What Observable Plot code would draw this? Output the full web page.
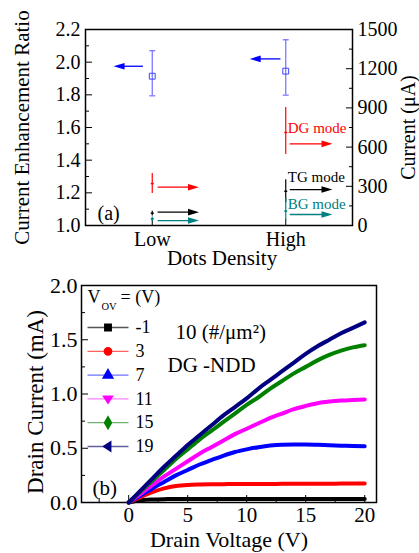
<!DOCTYPE html>
<html>
<head>
<meta charset="utf-8">
<script src="https://cdn.jsdelivr.net/npm/d3@7"></script>
<script src="https://cdn.jsdelivr.net/npm/@observablehq/plot@0.6"></script>
<style>
  html, body { margin: 0; padding: 0; background: white; font-family: "Liberation Serif", "Times New Roman", "DejaVu Serif", serif; }
  #wrap { position: relative; width: 419px; height: 553px; background: white; overflow: hidden; }
  #top, #bottom { position: absolute; left: 0; }
  #top { top: 0; }
  #bottom { top: 270px; }
  svg text { font-family: "Liberation Serif", "Times New Roman", "DejaVu Serif", serif !important; }
</style>
</head>
<body>
<div id="wrap"><div id="top"></div><div id="bottom"></div></div>
<script>
// ---------- Panel (a) data ----------
const categories = ["Low", "High"];
const catPos = [1, 2];
const ratioMean = [1.914, 1.945];
const ratioLo = [1.794, 1.798];
const ratioHi = [2.07, 2.137];
const dgMean = [321, 712], dgLo = [245, 543], dgHi = [398, 903];   // µA
const tgMean = [94, 262], tgLo = [72, 175], tgHi = [110, 350];     // µA
const bgMean = [51, 110], bgLo = [28, 38], bgHi = [66, 206];       // µA
const ratioTicks = [1.0, 1.2, 1.4, 1.6, 1.8, 2.0, 2.2];
const ratioMinor = [1.1, 1.3, 1.5, 1.7, 1.9, 2.1];
const currentTicks = [0, 300, 600, 900, 1200, 1500];
const currentMinor = [150, 450, 750, 1050, 1350];
// arrows (x in category units)
const leftArrowFrom = [0.93, 1.96], leftArrowTo = [0.71, 1.73], ratioArrowY = [1.975, 2.02];
const rightArrowFrom = [1.04, 2.03], rightArrowTo = [1.35, 2.35];
const dgArrowY = [293, 625], tgArrowY = [102, 275], bgArrowY = [38, 84];
const modeNames = ["DG mode", "TG mode", "BG mode"];
const modeLabelY = [742, 370, 161];
const modeLabelX = 2.015;

// ---------- Panel (b) data ----------
const drainV = [0,1,2,3,4,5,6,7,8,9,10,11,12,13,14,15,16,17,18,19,20];
const vovLabels = ["-1", "3", "7", "11", "15", "19"];
const id_m1 = [0,0.02,0.028,0.031,0.032,0.032,0.032,0.032,0.032,0.032,0.032,0.032,0.032,0.032,0.032,0.032,0.032,0.032,0.032,0.032,0.032];
const id_3  = [0,0.05,0.095,0.13,0.152,0.162,0.166,0.168,0.169,0.17,0.17,0.171,0.171,0.172,0.172,0.172,0.173,0.173,0.174,0.174,0.175];
const id_7  = [0,0.065,0.13,0.19,0.25,0.30,0.35,0.39,0.43,0.465,0.49,0.51,0.525,0.533,0.535,0.535,0.532,0.528,0.524,0.52,0.518];
const id_11 = [0,0.08,0.16,0.24,0.31,0.38,0.45,0.51,0.57,0.63,0.68,0.73,0.78,0.82,0.86,0.89,0.915,0.93,0.94,0.945,0.95];
const id_15 = [0,0.10,0.20,0.30,0.40,0.49,0.58,0.66,0.74,0.82,0.90,0.97,1.05,1.12,1.19,1.25,1.31,1.36,1.40,1.43,1.45];
const id_19 = [0,0.11,0.22,0.33,0.43,0.53,0.62,0.71,0.80,0.88,0.96,1.05,1.13,1.21,1.29,1.37,1.44,1.50,1.56,1.61,1.66];
const xMajor = [0, 5, 10, 15, 20];
const xMinor = [-2.5, 2.5, 7.5, 12.5, 17.5];
const yMajor = [0, 0.5, 1.0, 1.5, 2.0];
const yMinor = [0.25, 0.75, 1.25, 1.75];

const FONT = "'Liberation Serif', 'Times New Roman', 'DejaVu Serif', serif";

// custom symbols
const hcap = { draw(ctx, size) { const r = Math.sqrt(size / Math.PI); ctx.moveTo(-r, 0); ctx.lineTo(r, 0); } };
const headRight = { draw(ctx) { ctx.moveTo(0, 0); ctx.lineTo(-11, -3.3); ctx.lineTo(-11, 3.3); ctx.closePath(); } };
const headLeft = { draw(ctx) { ctx.moveTo(0, 0); ctx.lineTo(11, -3.3); ctx.lineTo(11, 3.3); ctx.closePath(); } };
const triDown = { draw(ctx, size) { const r = Math.sqrt(size / Math.PI) * 1.25; ctx.moveTo(-r, -r * 0.6); ctx.lineTo(r, -r * 0.6); ctx.lineTo(0, r * 0.95); ctx.closePath(); } };
const triLeft = { draw(ctx, size) { const r = Math.sqrt(size / Math.PI) * 1.25; ctx.moveTo(-r * 0.95, 0); ctx.lineTo(r * 0.6, -r); ctx.lineTo(r * 0.6, r); ctx.closePath(); } };

// ---------- Panel (a) ----------
const toR = c => 1 + c / 1500 * 1.2;
const rowsOf = (mean, lo, hi, conv) => catPos.map((x, i) => ({ x, mean: conv(mean[i]), lo: conv(lo[i]), hi: conv(hi[i]) }));
const id = d => d;
const ratioRows = rowsOf(ratioMean, ratioLo, ratioHi, id);
const modeSeries = [
  { rows: rowsOf(dgMean, dgLo, dgHi, toR), color: "#ff0000", arrowY: dgArrowY },
  { rows: rowsOf(tgMean, tgLo, tgHi, toR), color: "#000000", arrowY: tgArrowY },
  { rows: rowsOf(bgMean, bgLo, bgHi, toR), color: "#008080", arrowY: bgArrowY }
];

const marksA = [
  Plot.frame({ stroke: "black", strokeWidth: 1.5 }),
  Plot.axisY(ratioTicks, { tickSize: 0, tickPadding: 5, tickFormat: d3.format(".1f"), label: null, fontSize: 20 }),
  Plot.axisY(ratioTicks, { tickSize: -7, tickFormat: () => "", label: null }),
  Plot.axisY(ratioMinor, { tickSize: -4, tickFormat: () => "", label: null }),
  Plot.axisY(currentTicks.map(toR), { anchor: "right", tickSize: 0, tickPadding: 5, tickFormat: d => String(Math.round((d - 1) / 1.2 * 1500)), label: null, fontSize: 20 }),
  Plot.axisY(currentTicks.map(toR), { anchor: "right", tickSize: -7, tickFormat: () => "", label: null }),
  Plot.axisY(currentMinor.map(toR), { anchor: "right", tickSize: -4, tickFormat: () => "", label: null }),
  Plot.axisX(catPos, { tickSize: 0, tickPadding: 6, tickFormat: d => categories[d - 1], label: null, fontSize: 20 }),
  Plot.axisX(catPos, { tickSize: -6, tickFormat: () => "", label: null }),
  // ratio error bars (blue)
  Plot.ruleX(ratioRows, { x: "x", y1: "lo", y2: "hi", stroke: "#7070ff", strokeWidth: 1.2 }),
  Plot.dot(ratioRows, { x: "x", y: "lo", symbol: hcap, r: 3, stroke: "#7070ff", strokeWidth: 1.2 }),
  Plot.dot(ratioRows, { x: "x", y: "hi", symbol: hcap, r: 3, stroke: "#7070ff", strokeWidth: 1.2 }),
  Plot.dot(ratioRows, { x: "x", y: "mean", symbol: "square", r: 3.3, stroke: "#4040ff", fill: "none", strokeWidth: 1 }),
  // blue arrows (left)
  Plot.link(catPos, { x1: (d, i) => leftArrowFrom[i], x2: (d, i) => leftArrowTo[i] + 0.03, y1: (d, i) => ratioArrowY[i], y2: (d, i) => ratioArrowY[i], stroke: "#0000ff", strokeWidth: 1.3 }),
  Plot.dot(catPos, { x: (d, i) => leftArrowTo[i], y: (d, i) => ratioArrowY[i], symbol: headLeft, fill: "#0000ff", stroke: "none" }),
  // (a) label
  Plot.text(["(a)"], { frameAnchor: "bottom-left", dx: 12, dy: -12, lineAnchor: "middle", textAnchor: "start", fontSize: 20 }),
  // axis titles
  Plot.text(["Current Enhancement Ratio"], { frameAnchor: "left", dx: -63, rotate: -90, fontSize: 21, textAnchor: "middle", lineAnchor: "middle" }),
  Plot.text(["Current (μA)"], { frameAnchor: "right", dx: 56, rotate: -90, fontSize: 20, textAnchor: "middle", lineAnchor: "middle" }),
  Plot.text(["Dots Density"], { frameAnchor: "bottom", dx: 3, dy: 33, fontSize: 21, textAnchor: "middle", lineAnchor: "middle" })
];
modeSeries.forEach((s, k) => {
  marksA.push(
    Plot.ruleX(s.rows, { x: "x", y1: "lo", y2: "hi", stroke: s.color, strokeWidth: 1.2 }),
    Plot.dot(s.rows, { x: "x", y: "mean", symbol: hcap, r: 1.5, stroke: s.color, strokeWidth: 1.5 }),
    Plot.link(catPos, { x1: (d, i) => rightArrowFrom[i], x2: (d, i) => rightArrowTo[i] - 0.03, y1: (d, i) => toR(s.arrowY[i]), y2: (d, i) => toR(s.arrowY[i]), stroke: s.color, strokeWidth: 1.3 }),
    Plot.dot(catPos, { x: (d, i) => rightArrowTo[i], y: (d, i) => toR(s.arrowY[i]), symbol: headRight, fill: s.color, stroke: "none" }),
    Plot.text([modeNames[k]], { x: modeLabelX, y: toR(modeLabelY[k]), textAnchor: "start", lineAnchor: "middle", fill: s.color, fontSize: 15 })
  );
});

const plotA = Plot.plot({
  width: 419, height: 270,
  marginLeft: 85, marginRight: 67, marginTop: 29, marginBottom: 45,
  x: { domain: [0.5, 2.5] },
  y: { domain: [1.0, 2.2] },
  style: { fontFamily: FONT, fontSize: "20px", background: "white", color: "black" },
  marks: marksA
});
document.getElementById("top").appendChild(plotA);

// ---------- Panel (b) ----------
const seriesB = [
  { label: vovLabels[0], values: id_m1, color: "#000000", legendLine: "#555555", symbol: "square" },
  { label: vovLabels[1], values: id_3,  color: "#ff0000", legendLine: "#ff6060", symbol: "circle" },
  { label: vovLabels[2], values: id_7,  color: "#0000ff", legendLine: "#7070ff", symbol: "triangle" },
  { label: vovLabels[3], values: id_11, color: "#ff00ff", legendLine: "#ff80ff", symbol: triDown },
  { label: vovLabels[4], values: id_15, color: "#008000", legendLine: "#70b070", symbol: "diamond" },
  { label: vovLabels[5], values: id_19, color: "#000080", legendLine: "#6060a0", symbol: triLeft }
];

const marksB = [
  Plot.frame({ stroke: "black", strokeWidth: 1.5 }),
  Plot.axisY(yMajor, { tickSize: 0, tickPadding: 4, tickFormat: d3.format(".1f"), label: null, fontSize: 22 }),
  Plot.axisY(yMajor, { tickSize: -7, tickFormat: () => "", label: null }),
  Plot.axisY(yMinor, { tickSize: -4, tickFormat: () => "", label: null }),
  Plot.axisX(xMajor, { tickSize: 0, tickPadding: 5, tickFormat: d => String(d), label: null, fontSize: 21 }),
  Plot.axisX(xMajor, { tickSize: -7, tickFormat: () => "", label: null }),
  Plot.axisX(xMinor, { tickSize: -4, tickFormat: () => "", label: null })
];
seriesB.forEach(s => {
  marksB.push(Plot.line(drainV.map((v, j) => ({ v, i: s.values[j] })), { x: "v", y: "i", stroke: s.color, strokeWidth: 4, curve: "monotone-x" }));
});
// legend
marksB.push(
  Plot.text(["V"], { frameAnchor: "top-left", dx: 6, dy: 12, textAnchor: "start", lineAnchor: "middle", fontSize: 18 }),
  Plot.text(["OV"], { frameAnchor: "top-left", dx: 20, dy: 21.5, textAnchor: "start", lineAnchor: "middle", fontSize: 10.5 }),
  Plot.text(["= (V)"], { frameAnchor: "top-left", dx: 39, dy: 12, textAnchor: "start", lineAnchor: "middle", fontSize: 18 })
);
seriesB.forEach((s, k) => {
  const dy = 42 + k * 23.8;
  marksB.push(
    Plot.dot([s.label], { frameAnchor: "top-left", dx: 26.5, dy, symbol: hcap, r: 20.5, stroke: s.legendLine, strokeWidth: 1.3 }),
    Plot.dot([s.label], { frameAnchor: "top-left", dx: 26.5, dy, symbol: s.symbol, r: 3.6, fill: s.color, stroke: s.color }),
    Plot.text([s.label], { frameAnchor: "top-left", dx: 54, dy, textAnchor: "start", lineAnchor: "middle", fontSize: 18 })
  );
});
marksB.push(
  Plot.text(["10 (#/μm²)"], { frameAnchor: "top-left", dx: 94, dy: 47, textAnchor: "start", lineAnchor: "middle", fontSize: 21 }),
  Plot.text(["DG -NDD"], { frameAnchor: "top-left", dx: 86, dy: 80, textAnchor: "start", lineAnchor: "middle", fontSize: 21 }),
  Plot.text(["(b)"], { frameAnchor: "bottom-left", dx: 11, dy: -14, textAnchor: "start", lineAnchor: "middle", fontSize: 21 }),
  Plot.text(["Drain Current (mA)"], { frameAnchor: "left", dx: -46, dy: 8, rotate: -90, fontSize: 23, textAnchor: "middle", lineAnchor: "middle" }),
  Plot.text(["Drain Voltage (V)"], { frameAnchor: "bottom", dy: 37, fontSize: 22, textAnchor: "middle", lineAnchor: "middle" })
);

const plotB = Plot.plot({
  width: 419, height: 283,
  marginLeft: 81, marginRight: 43, marginTop: 15, marginBottom: 51,
  x: { domain: [-4, 21] },
  y: { domain: [0, 2.0] },
  style: { fontFamily: FONT, fontSize: "22px", background: "white", color: "black" },
  marks: marksB
});
document.getElementById("bottom").appendChild(plotB);
</script>
</body>
</html>
